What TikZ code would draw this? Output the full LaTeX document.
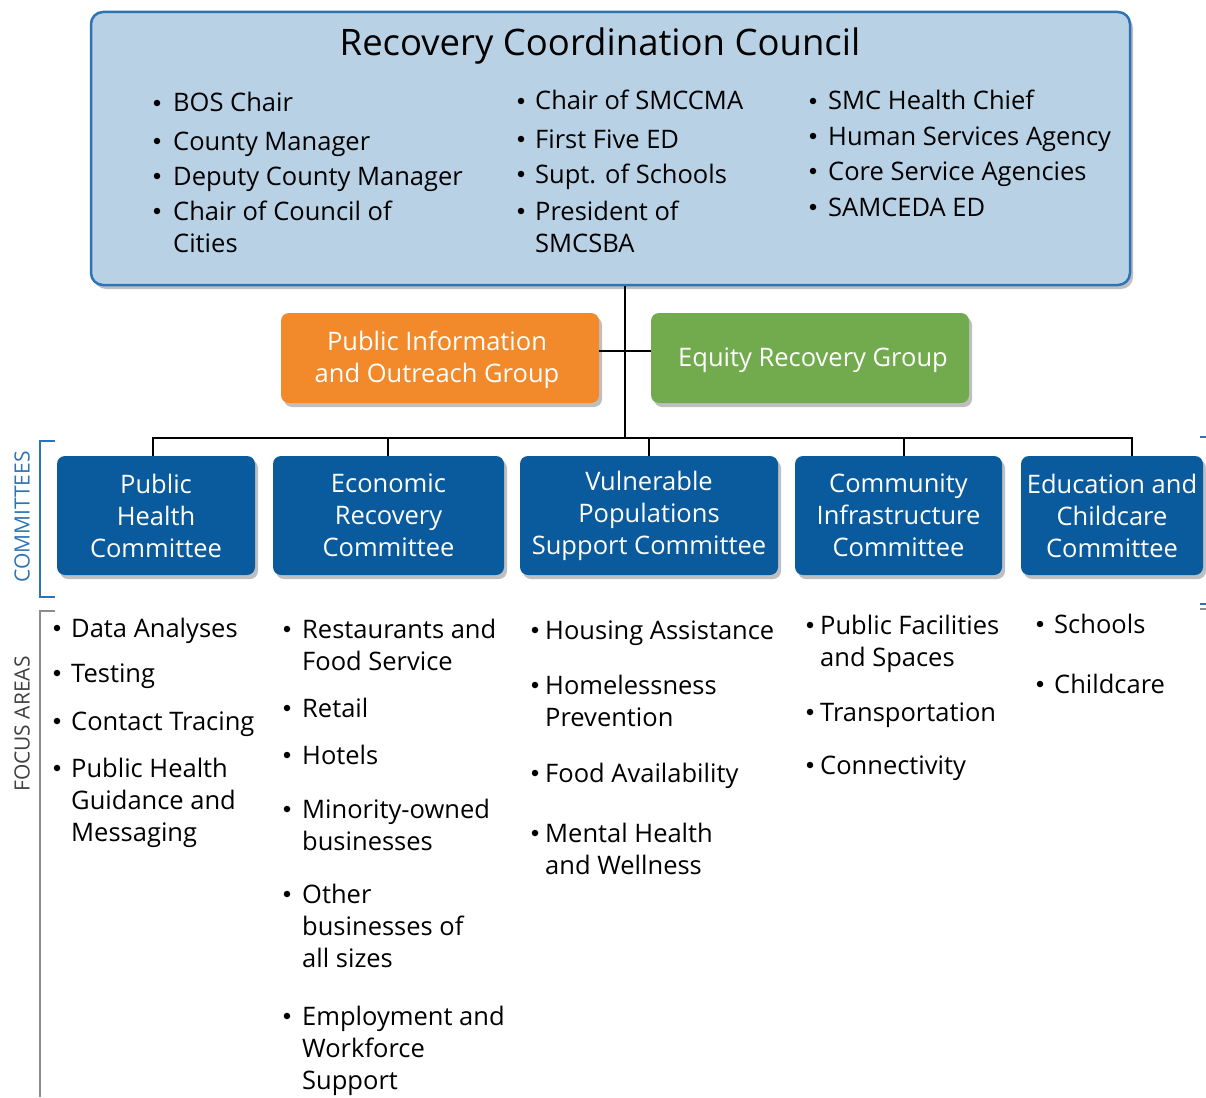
\documentclass[tikz,border=0pt]{standalone}
\usepackage{fontspec}
\setmainfont{Open Sans}
\usetikzlibrary{shadows}

\definecolor{councilfill}{HTML}{B9D1E5}
\definecolor{councilline}{HTML}{2E74B5}
\definecolor{pioorange}{HTML}{F2892A}
\definecolor{erggreen}{HTML}{72AB4D}
\definecolor{cmtblue}{HTML}{0A5A9E}
\definecolor{labelblue}{HTML}{2E74B5}
\definecolor{bracketgray}{HTML}{8C8C8C}
\definecolor{labelgray}{HTML}{404040}

\tikzset{
  softshadow/.style={drop shadow={shadow xshift=3pt, shadow yshift=-4pt, opacity=0.25, fill=black}},
  council/.style={draw=councilline, line width=2.5pt, fill=councilfill, rounded corners=12pt,
    minimum width=1039pt, minimum height=273pt, inner sep=0pt, softshadow},
  groupbox/.style={rounded corners=8pt, minimum width=318pt, minimum height=90pt,
    inner sep=0pt, softshadow},
  grouptext/.style={text=white, inner sep=0pt, align=center, font=\fontsize{25.5}{32}\selectfont},
  cmtbox/.style={fill=cmtblue, rounded corners=8pt, text=white, minimum height=119pt,
    inner sep=0pt, align=center, font=\fontsize{25.5}{32}\selectfont, softshadow},
  link/.style={line width=2.2pt, black},
  itemtext/.style={inner sep=0pt, anchor=base west, font=\fontsize{25.5}{32}\selectfont},
  dot/.style={circle, fill=black, inner sep=0pt, minimum size=6.5pt},
  sidelabel/.style={rotate=90, inner sep=0pt, font=\fontsize{21}{24}\selectfont},
}

% bullet + (possibly multi-line) entry: name, bullet x, text x, baseline y, text
\newcommand{\listentry}[5]{%
  \node[dot] (#1-dot) at (#2+4,#4-9) {};
  \node[itemtext] (#1) at (#3,#4) {\begin{tabular}[t]{@{}l@{}}#5\end{tabular}};%
}

\begin{document}
\begin{tikzpicture}[x=1pt, y=-1pt]
\path[use as bounding box] (0,0) rectangle (1206,1097);

% ---- council ----
\node[council] (council) at (610.5,148.5) {};
\node[inner sep=0pt, font=\fontsize{36.5}{40}\selectfont] (title) at (600,46) {Recovery Coordination Council};

\listentry{c1a}{153}{173}{112}{BOS Chair}
\listentry{c1b}{153}{173}{150}{County Manager}
\listentry{c1c}{153}{173}{185}{Deputy County Manager}
\listentry{c1d}{153}{173}{220}{Chair of Council of\\Cities}

\listentry{c2a}{517}{535}{110}{Chair of SMCCMA}
\listentry{c2b}{517}{535}{148}{First Five ED}
\listentry{c2c}{517}{535}{183}{Supt. of Schools}
\listentry{c2d}{517}{535}{220}{President of\\SMCSBA}

\listentry{c3a}{809}{828}{110}{SMC Health Chief}
\listentry{c3b}{809}{828}{145}{Human Services Agency}
\listentry{c3c}{809}{828}{180}{Core Service Agencies}
\listentry{c3d}{809}{828}{216}{SAMCEDA ED}

% ---- groups ----
\node[groupbox, fill=pioorange] (pio) at (440,358) {};
\node[grouptext] (piotext) at (437,360) {Public Information\\and Outreach Group};
\node[groupbox, fill=erggreen] (erg) at (810,358) {};
\node[grouptext] (ergtext) at (813,360) {Equity Recovery Group};

% ---- committees ----
\node[cmtbox, minimum width=198pt] (ph)  at (156,515.5)   {Public\\Health\\Committee};
\node[cmtbox, minimum width=231pt] (er)  at (388.5,515.5) {Economic\\Recovery\\Committee};
\node[cmtbox, minimum width=258pt] (vp)  at (649,515.5)   {Vulnerable\\Populations\\Support Committee};
\node[cmtbox, minimum width=207pt] (ci)  at (898.5,515.5) {Community\\Infrastructure\\Committee};
\node[cmtbox, minimum width=182pt] (ec)  at (1112,515.5)  {Education and\\Childcare\\Committee};

% ---- connectors ----
\coordinate (bus) at (625,438);
\coordinate (d1) at (153,438);
\coordinate (d2) at (388,438);
\coordinate (d3) at (649,438);
\coordinate (d4) at (904,438);
\coordinate (d5) at (1132,438);
\draw[link] (council.south -| bus) -- (bus);
\draw[link] ([yshift=7pt]pio.east) -- ([yshift=7pt]erg.west);
\draw[link] (d1 |- ph.north) -- (d1) -- (d5) -- (d5 |- ec.north);
\draw[link] (d2) -- (d2 |- er.north);
\draw[link] (d3) -- (d3 |- vp.north);
\draw[link] (d4) -- (d4 |- ci.north);

% ---- side brackets ----
\draw[labelblue, line width=1.3pt] (55,441) -- (40,441) -- (40,597) -- (55,597);
\node[sidelabel, text=labelblue] (cmtlabel) at (22,517) {COMMITTEES};
\draw[labelblue, line width=1.3pt] (1200,437) -- (1206,437);
\draw[labelblue, line width=1.3pt] (1200,604) -- (1206,604);
\draw[bracketgray, line width=1.3pt] (1200,609) -- (1206,609);
\draw[bracketgray, line width=1.3pt] (55,611) -- (40,611) -- (40,1097);
\node[sidelabel, text=labelgray] (falabel) at (22,724) {FOCUS AREAS};

% ---- focus areas ----
\listentry{f1a}{53}{71}{637}{Data Analyses}
\listentry{f1b}{53}{71}{682}{Testing}
\listentry{f1c}{53}{71}{730}{Contact Tracing}
\listentry{f1d}{53}{71}{777}{Public Health\\Guidance and\\Messaging}

\listentry{f2a}{283}{302}{638}{Restaurants and\\Food Service}
\listentry{f2b}{283}{302}{717}{Retail}
\listentry{f2c}{283}{302}{764}{Hotels}
\listentry{f2d}{283}{302}{818}{Minority-owned\\businesses}
\listentry{f2e}{283}{302}{903}{Other\\businesses of\\all sizes}
\listentry{f2f}{283}{302}{1025}{Employment and\\Workforce\\Support}

\listentry{f3a}{531}{545}{639}{Housing Assistance}
\listentry{f3b}{531}{545}{694}{Homelessness\\Prevention}
\listentry{f3c}{531}{545}{782}{Food Availability}
\listentry{f3d}{531}{545}{842}{Mental Health\\and Wellness}

\listentry{f4a}{806}{820}{634}{Public Facilities\\and Spaces}
\listentry{f4b}{806}{820}{721}{Transportation}
\listentry{f4c}{806}{820}{774}{Connectivity}

\listentry{f5a}{1036}{1054}{633}{Schools}
\listentry{f5b}{1036}{1054}{693}{Childcare}
\end{tikzpicture}
\end{document}
